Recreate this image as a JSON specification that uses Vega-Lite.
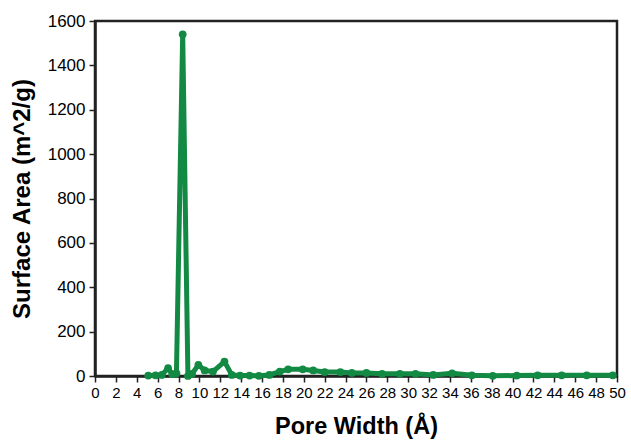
{
  "$schema": "https://vega.github.io/schema/vega-lite/v6.json",
  "width": 522,
  "height": 355,
  "autosize": {"type": "none"},
  "padding": {"left": 95, "top": 21, "right": 14, "bottom": 65},
  "background": "white",
  "config": {
    "view": {"stroke": "#222222", "strokeWidth": 2.5},
    "axis": {
      "grid": false,
      "domainColor": "#222222",
      "domainWidth": 2.5,
      "tickColor": "#222222",
      "tickWidth": 1.5,
      "tickSize": 6,
      "labelColor": "#000000",
      "titleColor": "#000000",
      "labelFont": "Liberation Sans Narrow, Arial Narrow, Liberation Sans, Arial",
      "titleFont": "Liberation Sans, Arial",
      "titleFontWeight": "bold"
    }
  },
  "data": {
    "values": [
      {"w": 5.1, "a": 2},
      {"w": 5.8, "a": 3},
      {"w": 6.4, "a": 5},
      {"w": 7.0, "a": 35},
      {"w": 7.4, "a": 8},
      {"w": 7.8, "a": 12},
      {"w": 8.4, "a": 1540},
      {"w": 8.9, "a": 0},
      {"w": 9.3, "a": 10},
      {"w": 9.9, "a": 50},
      {"w": 10.5, "a": 25},
      {"w": 11.3, "a": 20},
      {"w": 12.4, "a": 65},
      {"w": 13.1, "a": 5},
      {"w": 13.9, "a": 2},
      {"w": 14.8, "a": 2},
      {"w": 15.7, "a": 1},
      {"w": 16.7, "a": 5},
      {"w": 17.7, "a": 20},
      {"w": 18.5, "a": 30},
      {"w": 19.9, "a": 30},
      {"w": 20.9, "a": 25},
      {"w": 22.0, "a": 18},
      {"w": 23.5, "a": 18},
      {"w": 24.6, "a": 14},
      {"w": 26.0, "a": 14},
      {"w": 27.5, "a": 10},
      {"w": 29.2, "a": 10},
      {"w": 30.7, "a": 10},
      {"w": 32.4, "a": 5},
      {"w": 34.2, "a": 12},
      {"w": 36.1, "a": 3},
      {"w": 38.1, "a": 1},
      {"w": 40.4, "a": 2},
      {"w": 42.4, "a": 3},
      {"w": 44.7, "a": 3},
      {"w": 47.1, "a": 3},
      {"w": 49.6, "a": 3}
    ]
  },
  "encoding": {
    "x": {
      "field": "w",
      "type": "quantitative",
      "title": "Pore Width (Å)",
      "scale": {"domain": [0, 50], "nice": false},
      "axis": {"values": [0,2,4,6,8,10,12,14,16,18,20,22,24,26,28,30,32,34,36,38,40,42,44,46,48,50], "format": "d", "labelFontSize": 15, "labelPadding": 3, "titlePadding": 14, "titleFontSize": 23.5, "labelFlush": false, "labelOverlap": false}
    },
    "y": {
      "field": "a",
      "type": "quantitative",
      "title": "Surface Area (m^2/g)",
      "scale": {"domain": [0, 1600], "nice": false},
      "axis": {"values": [0,200,400,600,800,1000,1200,1400,1600], "format": "d", "labelFontSize": 17, "labelPadding": 4, "titlePadding": 13, "titleFontSize": 24}
    }
  },
  "layer": [
    {"mark": {"type": "line", "color": "#138a43", "strokeWidth": 5, "strokeJoin": "round"}},
    {"mark": {"type": "point", "filled": true, "color": "#138a43", "size": 60, "opacity": 1}}
  ]
}
